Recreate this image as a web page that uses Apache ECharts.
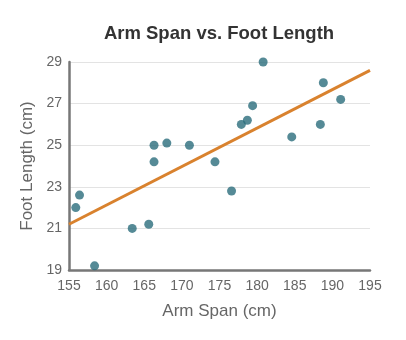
<!DOCTYPE html>
<html>
<head>
<meta charset="utf-8">
<script src="https://cdn.jsdelivr.net/npm/echarts@6/dist/echarts.min.js"></script>
<style>
  html, body { margin: 0; padding: 0; background: #fff; }
  #chart { width: 406px; height: 340px; }
</style>
</head>
<body>
<div id="chart"></div>
<script>
// Arm span (cm) and foot length (cm) for each student
const armSpan = [155.9, 156.4, 158.4, 163.4, 165.6, 166.3, 166.3, 168.0, 171.0, 174.4,
                 176.6, 177.9, 178.7, 179.4, 180.8, 184.6, 188.4, 188.8, 191.1];
const footLength = [22.0, 22.6, 19.2, 21.0, 21.2, 25.0, 24.2, 25.1, 25.0, 24.2,
                    22.8, 26.0, 26.2, 26.9, 29.0, 25.4, 26.0, 28.0, 27.2];
// Least-squares trend line endpoints
const trendX = [155, 195];
const trendY = [21.2, 28.6];
const xTicks = [155, 160, 165, 170, 175, 180, 185, 190, 195];
const yTicks = [19, 21, 23, 25, 27, 29];

const points = armSpan.map((x, i) => [x, footLength[i]]);
const trend = trendX.map((x, i) => [x, trendY[i]]);

const font = 'Arial, "Liberation Sans", sans-serif';
const chart = echarts.init(document.getElementById('chart'), null, { renderer: 'canvas' });
chart.setOption({
  animation: false,
  backgroundColor: '#ffffff',
  title: {
    text: 'Arm Span vs. Foot Length',
    left: 214,
    top: 19,
    textAlign: 'center',
    textStyle: { fontFamily: font, fontSize: 18.5, fontWeight: 'bold', color: '#333333' }
  },
  grid: { left: 69, right: 36, top: 62, bottom: 70, containLabel: false },
  xAxis: {
    type: 'value',
    min: xTicks[0],
    max: xTicks[xTicks.length - 1],
    interval: 5,
    name: 'Arm Span (cm)',
    nameLocation: 'middle',
    nameGap: 33,
    nameTextStyle: { fontFamily: font, fontSize: 17, color: '#666666' },
    axisLine: { show: true, lineStyle: { color: '#777777', width: 2.5 } },
    axisTick: { show: false },
    splitLine: { show: false },
    axisLabel: { fontFamily: font, fontSize: 14, color: '#666666', margin: 9 }
  },
  yAxis: {
    type: 'value',
    min: yTicks[0],
    max: yTicks[yTicks.length - 1],
    interval: 2,
    name: 'Foot Length (cm)',
    nameLocation: 'middle',
    nameGap: 30,
    nameTextStyle: { fontFamily: font, fontSize: 17, color: '#666666' },
    axisLine: { show: true, lineStyle: { color: '#777777', width: 2.5 } },
    axisTick: { show: false },
    splitLine: { show: true, lineStyle: { color: '#e3e3e3', width: 1 } },
    axisLabel: { fontFamily: font, fontSize: 14, color: '#666666', margin: 7 }
  },
  series: [
    {
      type: 'line',
      data: trend,
      symbol: 'none',
      lineStyle: { color: '#d9822e', width: 3 },
      z: 2
    },
    {
      type: 'scatter',
      data: points,
      symbolSize: 9,
      itemStyle: { color: '#2a6d7c' },
      z: 3
    }
  ]
});
</script>
</body>
</html>
